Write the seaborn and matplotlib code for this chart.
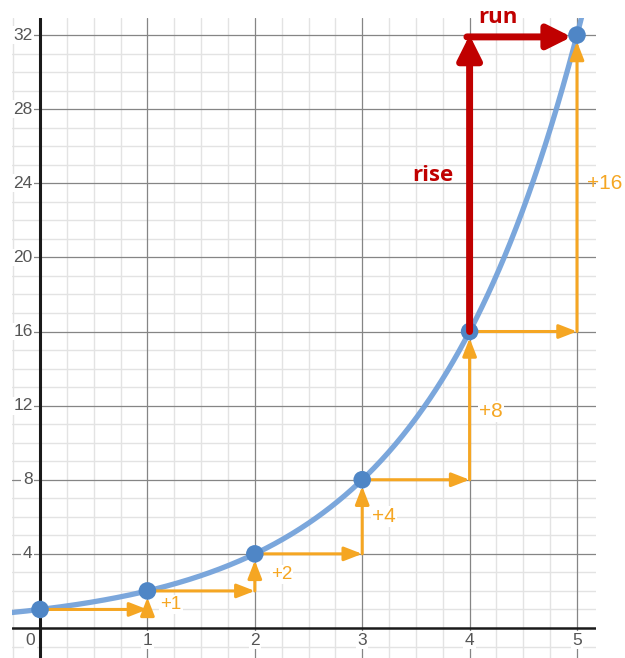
import numpy as np
import pandas as pd
import matplotlib
matplotlib.use("Agg")
import matplotlib.pyplot as plt
import seaborn as sns

# Data: y = 2^x sampled at whole numbers
x_points = [0, 1, 2, 3, 4, 5]
y_points = [1, 2, 4, 8, 16, 32]
step_labels = ["+1", "+2", "+4", "+8", "+16"]
step_label_x = [1.22, 2.25, 3.2, 4.2, 5.26]
step_label_y = [1.25, 2.9, 6.0, 11.7, 24.0]
step_label_size = [13.5, 13.5, 15, 15, 15]
x_tick_values = [0, 1, 2, 3, 4, 5]
y_tick_values = [4, 8, 12, 16, 20, 24, 28, 32]

curve_x = np.linspace(-0.3, np.log2(33.2), 400)
curve = pd.DataFrame({"x": curve_x, "y": 2.0 ** curve_x})
pts = pd.DataFrame({"x": x_points, "y": y_points})

sns.set_theme(style="white")
plt.rcParams["font.family"] = ["Liberation Sans", "DejaVu Sans"]

fig = plt.figure(figsize=(6.25, 6.58), dpi=100)
ax = fig.add_axes([12 / 625, 0, 584 / 625, 640 / 658])
ax.set_xlim(-0.261, 5.177)
ax.set_ylim(-1.62, 32.92)

# Grid: minor every 0.25 in x and 1 in y, major every 1 in x and 4 in y
for v in np.arange(-0.25, 5.26, 0.25):
    if abs(v - round(v)) > 1e-9:
        ax.axvline(v, color="#e3e3e3", lw=1.0, zorder=0)
for v in np.arange(-1, 33, 1):
    if v % 4 != 0:
        ax.axhline(v, color="#e3e3e3", lw=1.0, zorder=0)
for v in x_tick_values:
    if v != 0:
        ax.axvline(v, color="#858585", lw=0.9, zorder=0.5)
for v in y_tick_values:
    ax.axhline(v, color="#858585", lw=0.9, zorder=0.5)
ax.axhline(0, color="#1a1a1a", lw=1.8, zorder=1)
ax.axvline(0, color="#1a1a1a", lw=2.2, zorder=1)

for s in ax.spines.values():
    s.set_visible(False)
ax.set_xticks([])
ax.set_yticks([])
ax.set_xlabel("")
ax.set_ylabel("")

# Tick labels on a white backing
label_box = dict(boxstyle="square,pad=0.08", fc="white", ec="none")
for v in y_tick_values:
    ax.text(-0.07, v, str(v), ha="right", va="center", fontsize=12.5,
            color="#555555", bbox=label_box, zorder=2)
for v in x_tick_values:
    xx = -0.09 if v == 0 else v
    ax.text(xx, -0.65, str(v), ha="center", va="center", fontsize=12.5,
            color="#555555", bbox=label_box, zorder=2)

# Curve
sns.lineplot(data=curve, x="x", y="y", ax=ax, color="#74a2da", lw=3.8,
             alpha=0.95, zorder=3, legend=False)

# Step arrows: run of 1, rise of the doubling
orange = "#f5a623"
arrow_kw = dict(arrowstyle="-|>,head_length=0.9,head_width=0.35", color=orange,
                lw=2.2, shrinkA=0, shrinkB=0)
step_box = dict(boxstyle="square,pad=0.05", fc="white", ec="none")
for i in range(len(x_points) - 1):
    x0, y0 = x_points[i], y_points[i]
    x1, y1 = x_points[i + 1], y_points[i + 1]
    ax.annotate("", xy=(x1, y0), xytext=(x0, y0),
                arrowprops=dict(arrow_kw), zorder=4)
    ax.annotate("", xy=(x1, y1 - 0.35), xytext=(x1, y0),
                arrowprops=dict(arrow_kw), zorder=4)
    ax.text(step_label_x[i], step_label_y[i], step_labels[i], color=orange,
            fontsize=step_label_size[i], ha="center", va="center",
            bbox=step_box if i < 4 else None, clip_on=False, zorder=5)

sns.scatterplot(data=pts, x="x", y="y", ax=ax, color="#4f86c6", s=160,
                edgecolor="none", zorder=6, legend=False)

# Rise / run arrows
red = "#c00000"
ax.annotate("", xy=(x_points[4], y_points[5]), xytext=(x_points[4], y_points[4]),
            arrowprops=dict(arrowstyle="-|>,head_length=1.2,head_width=0.6",
                            color=red, lw=5, shrinkA=0, shrinkB=0),
            zorder=7)
ax.annotate("", xy=(x_points[5] - 0.05, y_points[5] - 0.1),
            xytext=(x_points[4] - 0.025, y_points[5] - 0.1),
            arrowprops=dict(arrowstyle="-|>,head_length=1.2,head_width=0.6",
                            color=red, lw=5, shrinkA=0, shrinkB=0),
            zorder=7)
ax.text(3.66, 24.4, "rise", color=red, fontsize=16, fontweight="bold",
        family=["Open Sans", "DejaVu Sans"], ha="center", va="center", zorder=8)
ax.text(4.26, 32.95, "run", color=red, fontsize=16, fontweight="bold",
        family=["Open Sans", "DejaVu Sans"], ha="center", va="center",
        clip_on=False, zorder=8)

fig.savefig("out.png", dpi=100)
